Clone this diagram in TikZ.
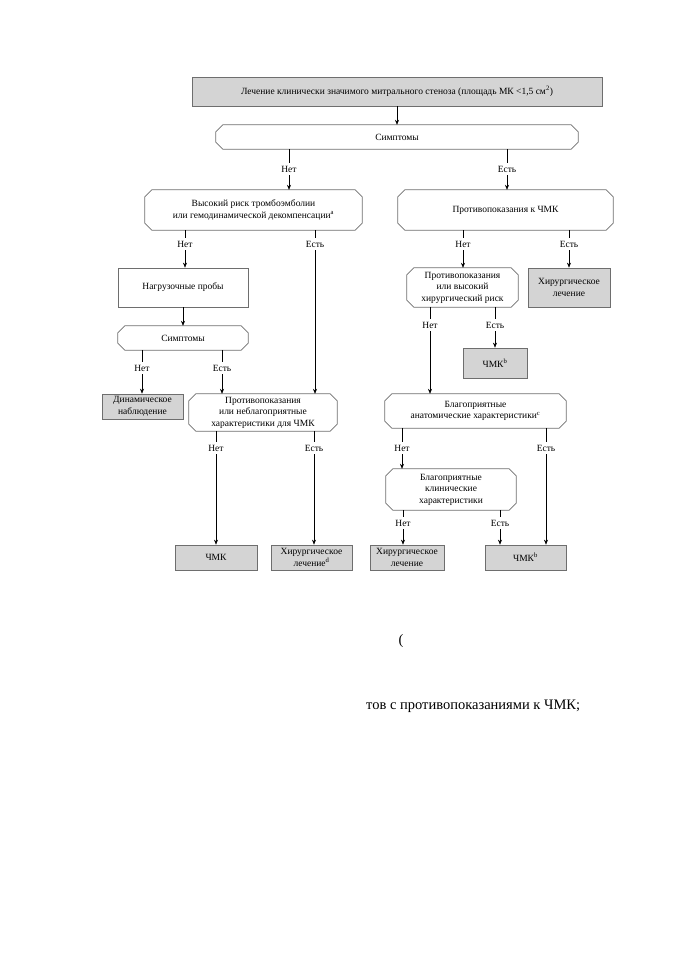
\documentclass[tikz,border=0pt]{standalone}
\usepackage{fontspec}
\setmainfont{Liberation Serif}
\usetikzlibrary{arrows.meta}
\definecolor{edge}{HTML}{6E6E6E}
\definecolor{fillg}{HTML}{D4D4D4}
\newcommand\chamf[1]{%
  \draw[edge line] ([xshift=7pt]#1.north west) -- ([xshift=-7pt]#1.north east)
    -- ([yshift=-7pt]#1.north east) -- ([yshift=7pt]#1.south east)
    -- ([xshift=-7pt]#1.south east) -- ([xshift=7pt]#1.south west)
    -- ([yshift=7pt]#1.south west) -- ([yshift=-7pt]#1.north west) -- cycle;}
\begin{document}
\begin{tikzpicture}[x=1pt,y=-1pt,
  every node/.style={font=\fontsize{9.5}{11.5}\selectfont, align=center, inner sep=0pt},
  edge line/.style={draw=edge, line width=0.7pt},
  gbox/.style={rectangle, edge line, fill=fillg},
  wbox/.style={rectangle, edge line},
  cbox/.style={rectangle},
  lbl/.style={inner sep=3pt},
  conn/.style={draw=black, line width=0.5pt},
  arr/.style={conn, -{Stealth[length=5pt,width=4pt]}}]
\useasboundingbox (0,0) rectangle (678,960);

% boxes
\node[gbox, minimum width=410pt, minimum height=29pt] (title) at (397,91.5)
  {Лечение клинически значимого митрального стеноза (площадь МК <1,5 см\textsuperscript{2})};
\node[cbox, minimum width=362pt, minimum height=24pt] (symp1) at (397,137) {Симптомы};
\node[cbox, minimum width=217pt, minimum height=40pt] (risk) at (253.5,210)
  {Высокий риск тромбоэмболии\\или гемодинамической декомпенсации\textsuperscript{a}};
\node[cbox, minimum width=215pt, minimum height=40pt] (contra) at (505.5,210) {Противопоказания к ЧМК};
\node[wbox, minimum width=130pt, minimum height=39pt] (load) at (183,287.5) {Нагрузочные пробы};
\node[cbox, minimum width=130pt, minimum height=24pt] (symp2) at (183,338) {Симптомы};
\node[gbox, minimum width=81pt, minimum height=25pt] (dyn) at (142.5,406.5) {Динамическое\\наблюдение};
\node[cbox, minimum width=148pt, minimum height=37pt] (contra2) at (263,412.5)
  {Противопоказания\\или неблагоприятные\\характеристики для ЧМК};
\node[gbox, minimum width=82pt, minimum height=25pt] (chmk1) at (216,557.5) {ЧМК};
\node[gbox, minimum width=81pt, minimum height=25pt] (surg1) at (311.5,557.5) {Хирургическое\\лечение\textsuperscript{d}};
\node[cbox, minimum width=111pt, minimum height=39pt] (contra3) at (462.5,287.5)
  {Противопоказания\\или высокий\\хирургический риск};
\node[gbox, minimum width=82pt, minimum height=39pt] (surg2) at (569,287.5) {Хирургическое\\лечение};
\node[gbox, minimum width=64pt, minimum height=30pt] (chmkb1) at (495,363) {ЧМК\textsuperscript{b}};
\node[cbox, minimum width=181pt, minimum height=34pt] (anat) at (475.5,411)
  {Благоприятные\\анатомические характеристики\textsuperscript{c}};
\node[cbox, minimum width=130pt, minimum height=41pt] (clin) at (451,489.5)
  {Благоприятные\\клинические\\характеристики};
\node[gbox, minimum width=74pt, minimum height=25pt] (surg3) at (407,557.5) {Хирургическое\\лечение};
\node[gbox, minimum width=81pt, minimum height=25pt] (chmkb2) at (525.5,557.5) {ЧМК\textsuperscript{b}};

\chamf{symp1}\chamf{risk}\chamf{contra}\chamf{symp2}\chamf{contra2}
\chamf{contra3}\chamf{anat}\chamf{clin}

% labels
\node[lbl] (sNo) at (289,169) {Нет};
\node[lbl] (sYes) at (507,169) {Есть};
\node[lbl] (rNo) at (185,244) {Нет};
\node[lbl] (rYes) at (315,244) {Есть};
\node[lbl] (s2No) at (142,368) {Нет};
\node[lbl] (s2Yes) at (222,368) {Есть};
\node[lbl] (c2No) at (216,448) {Нет};
\node[lbl] (c2Yes) at (314,448) {Есть};
\node[lbl] (cNo) at (463,244) {Нет};
\node[lbl] (cYes) at (569,244) {Есть};
\node[lbl] (c3No) at (430,325) {Нет};
\node[lbl] (c3Yes) at (495,325) {Есть};
\node[lbl] (aNo) at (402,448) {Нет};
\node[lbl] (aYes) at (546,448) {Есть};
\node[lbl] (clNo) at (403,523) {Нет};
\node[lbl] (clYes) at (500,523) {Есть};

% connectors
\draw[arr] (title.south) -- (symp1.north);
\foreach \src/\l/\dst in {symp1/sNo/risk, symp1/sYes/contra, risk/rNo/load, risk/rYes/contra2,
  symp2/s2No/dyn, symp2/s2Yes/contra2, contra2/c2No/chmk1, contra2/c2Yes/surg1,
  contra/cNo/contra3, contra/cYes/surg2, contra3/c3No/anat, contra3/c3Yes/chmkb1,
  anat/aNo/clin, anat/aYes/chmkb2, clin/clNo/surg3, clin/clYes/chmkb2} {
  \draw[conn] (\src.south -| \l.north) -- (\l.north);
  \draw[arr] (\l.south) -- (\l.south |- \dst.north);
}
\draw[arr] (load.south) -- (symp2.north);

% stray text fragments
\node[font=\fontsize{14.5}{17}\selectfont] (paren) at (401,641) {(};
\node[font=\fontsize{14.5}{17}\selectfont, anchor=west] (frag) at (366,706) {тов с противопоказаниями к ЧМК;};
\end{tikzpicture}
\end{document}
